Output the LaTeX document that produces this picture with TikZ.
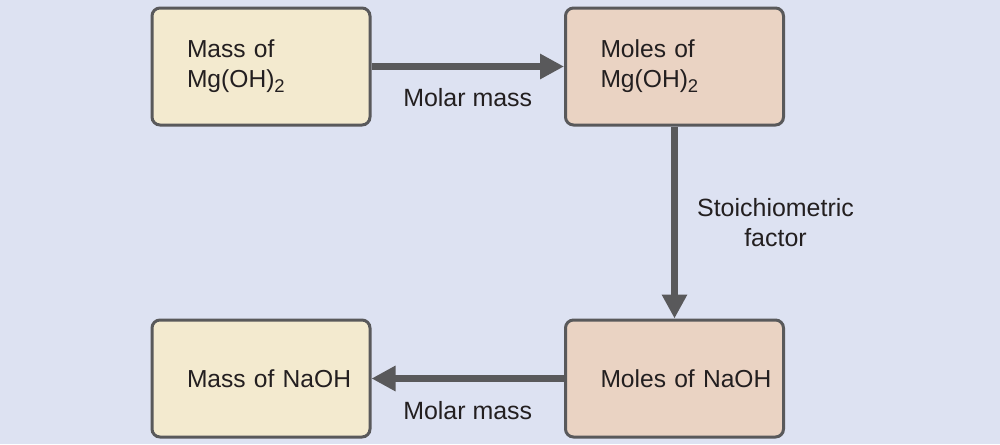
\documentclass[tikz,border=0pt]{standalone}
\usepackage{fontspec}
\setmainfont{Liberation Sans}
\usetikzlibrary{arrows.meta}

\definecolor{bgblue}{HTML}{DDE2F2}
\definecolor{boxyellow}{HTML}{F3EACF}
\definecolor{boxpink}{HTML}{EAD3C3}
\definecolor{linegray}{HTML}{59595B}
\definecolor{textdark}{HTML}{231F20}

\newcommand\chemsub[1]{\raisebox{-0.1cm}{\fontsize{10.5}{12}\selectfont #1}}

\begin{document}
\begin{tikzpicture}[
        box/.style={draw=linegray, line width=0.06cm, rounded corners=0.16cm,
            minimum height=2.34cm, inner xsep=0.7cm, text width=2.96cm,
            align=left, text=textdark, font=\fontsize{14}{17}\selectfont},
        flow/.style={draw=linegray, line width=0.15cm,
            -{Triangle[width=0.48cm, length=0.48cm]}},
        lbl/.style={text=textdark, align=center, font=\fontsize{14.2}{17}\selectfont}
    ]
            \fill[bgblue] (0,0) rectangle (20,8.88);

            \node[box, fill=boxyellow] (massMg) at (5.22,7.55) {Mass of\\Mg(OH)\chemsub{2}};
            \node[box, fill=boxpink] (molesMg) at (13.49,7.55) {Moles of\\Mg(OH)\chemsub{2}};
            \node[box, fill=boxpink] (molesNa) at (13.49,1.31) {\mbox{Moles of NaOH}};
            \node[box, fill=boxyellow] (massNa) at (5.22,1.31) {\mbox{Mass of NaOH}};

            \draw[flow] (massMg) -- node[lbl, midway, yshift=-0.63cm] (lblTop) {Molar mass} (molesMg);
            \draw[flow] (molesMg) -- node[lbl, midway, xshift=2.02cm] (lblMid) {Stoichiometric\\factor} (molesNa);
            \draw[flow] (molesNa) -- node[lbl, midway, yshift=-0.64cm] (lblBot) {Molar mass} (massNa);
        \end{tikzpicture}
\end{document}
